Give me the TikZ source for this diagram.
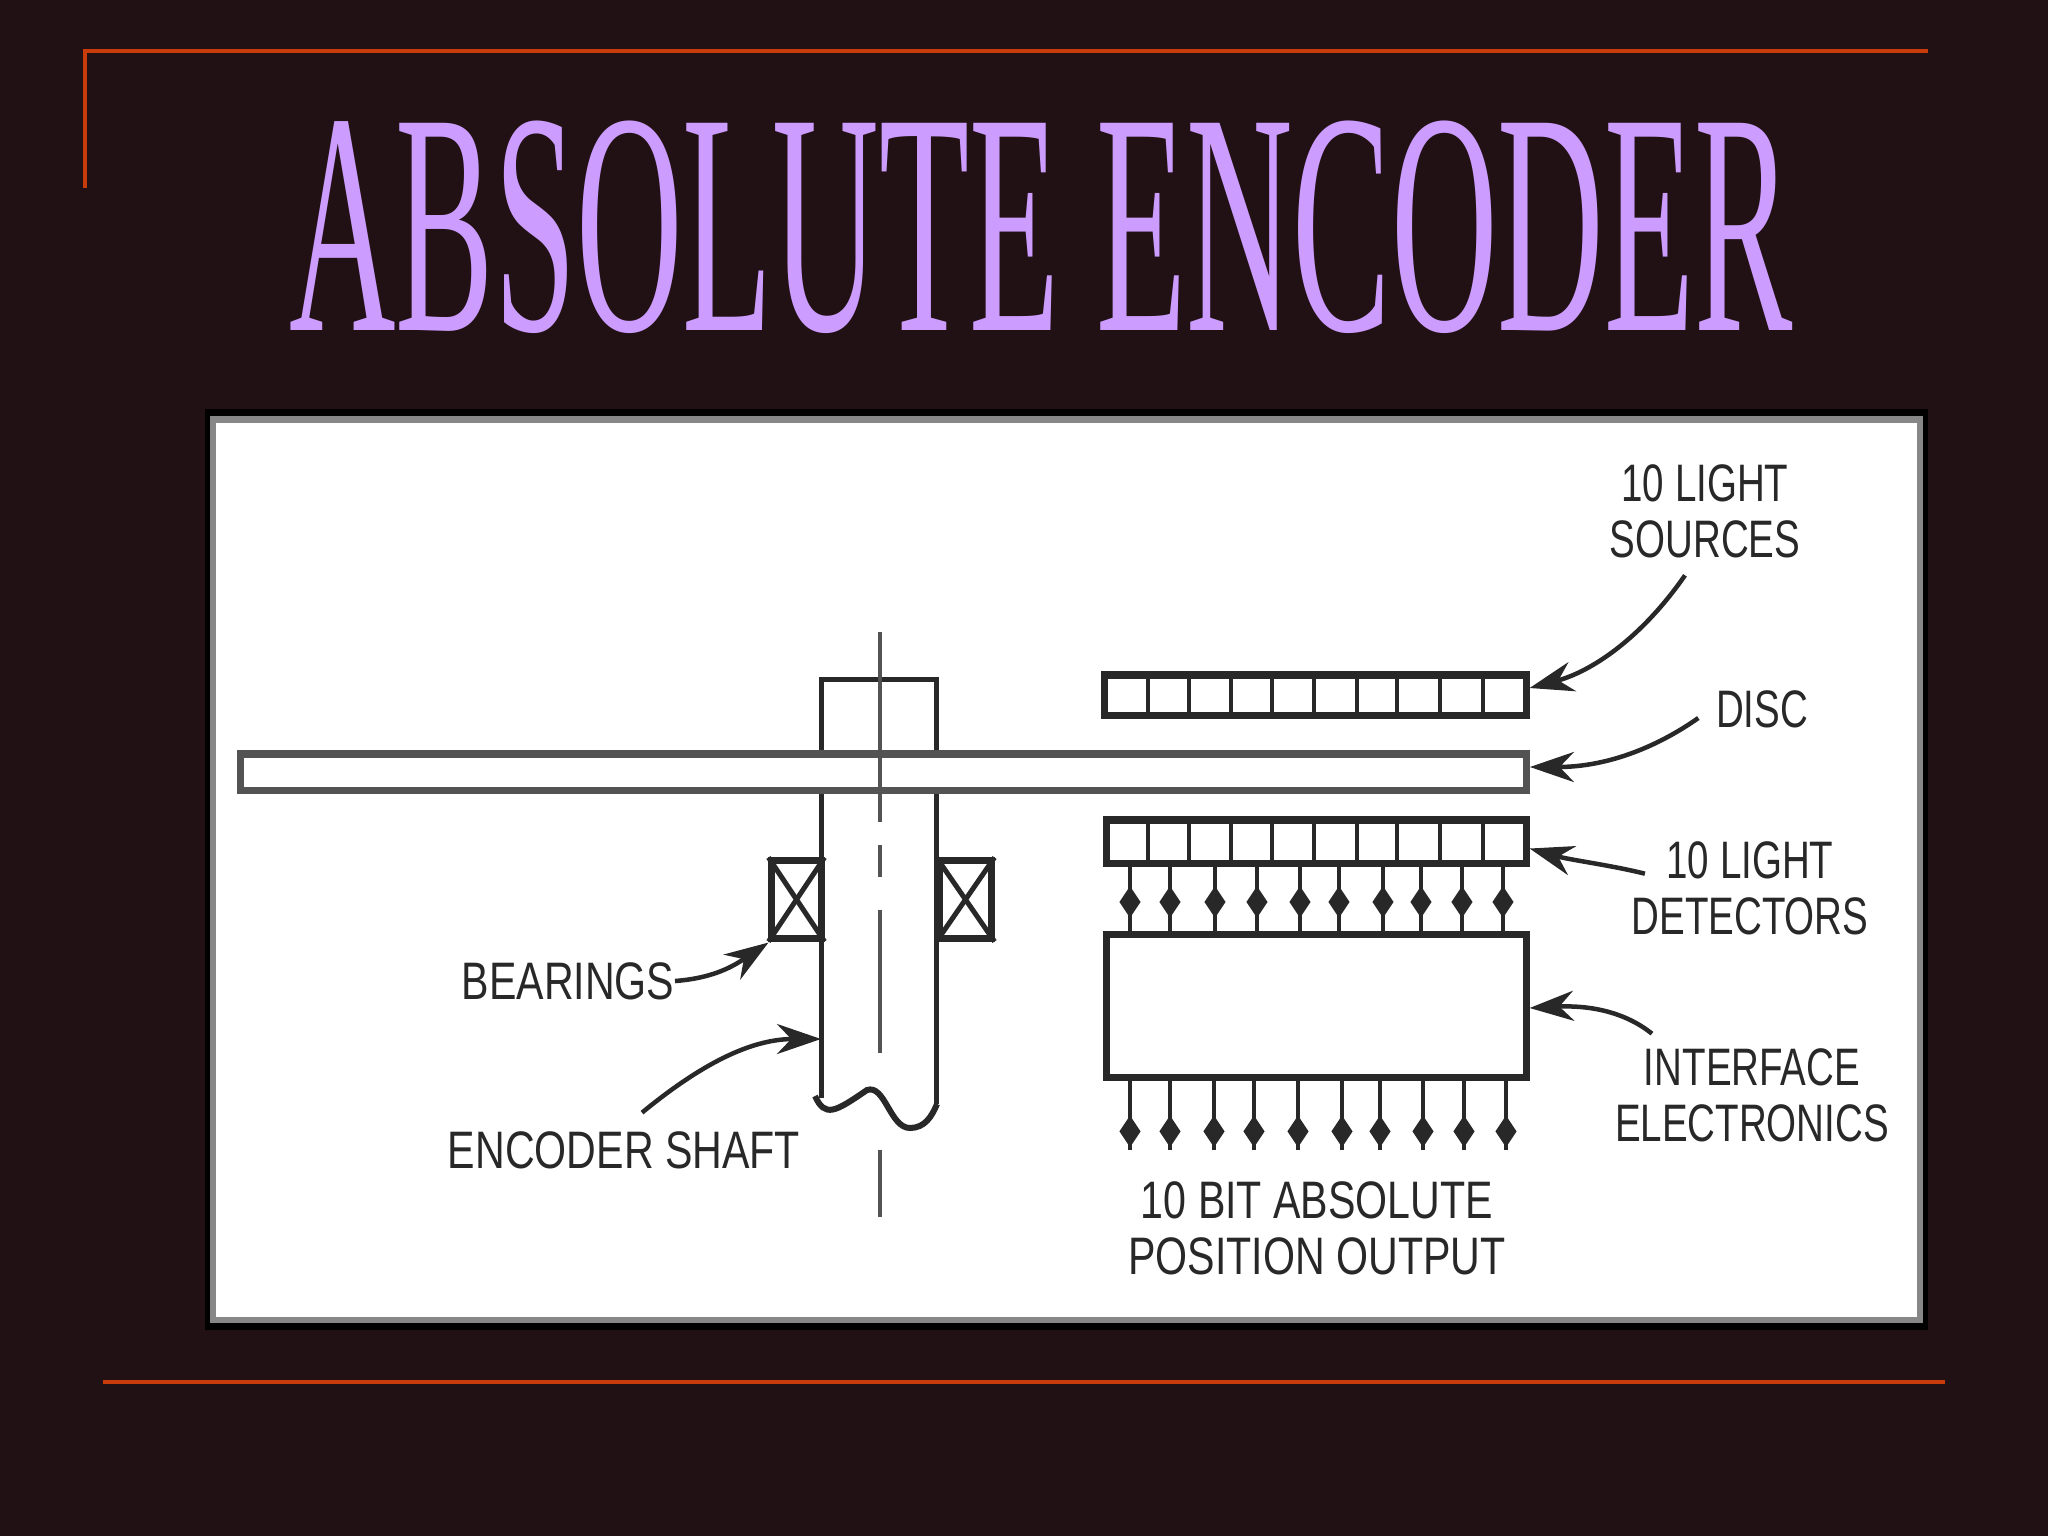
\documentclass[tikz,border=0pt]{standalone}
\usepackage{fontspec}
\usetikzlibrary{arrows.meta,decorations.markings}
\newfontfamily\titlefont[FakeStretch=0.466]{Liberation Serif}
\newfontfamily\lblfont[FakeStretch=0.73]{Liberation Sans}
\newfontfamily\lblwidefont[FakeStretch=0.78]{Liberation Sans}
\definecolor{slidebg}{RGB}{33, 16, 20}
\definecolor{ruleline}{RGB}{200, 60, 12}
\definecolor{titlepurple}{RGB}{204, 157, 255}
\definecolor{panelgray}{RGB}{135, 135, 135}
\definecolor{ink}{RGB}{40, 40, 40}
\tikzset{
  part/.style={draw=ink, line width=.7mm, fill=white, inner sep=0pt},
  lbl/.style={font=\lblfont\fontsize{15}{15.9}\selectfont, text=ink, align=center, inner sep=0pt},
  lblwide/.style={lbl, font=\lblwidefont\fontsize{15}{15.9}\selectfont},
  leader/.style={draw=ink, line width=.45mm, -{Stealth[length=4.4mm, width=3mm]}},
  wire/.style={draw=ink, line width=.45mm, postaction={decorate},
    decoration={markings, mark=at position #1 with {\arrow{Diamond[length=9pt, width=6pt]}}}}
}
\begin{document}
\begin{tikzpicture}[x=0.01cm, y=-0.01cm]
  \useasboundingbox (0,0) rectangle (2048,1536);
  \fill[slidebg] (0,0) rectangle (2048,1536);

  % Slide rules and title
  \draw[ruleline, line width=.42mm] (85,188) -- (85,51) -- (1928,51);
  \draw[ruleline, line width=.42mm] (103,1382) -- (1945,1382);
  \node[font=\titlefont\fontsize{90}{90}\selectfont, text=titlepurple, inner sep=0pt] (title) at (1041,227) {ABSOLUTE ENCODER};

  % Panel
  \fill[black] (205,409) rectangle (1928,1330);
  \fill[panelgray] (210,416) rectangle (1923,1323);
  \fill[white] (216,423) rectangle (1917,1317);

  % Shaft
  \draw[draw=ink, line width=.5mm] (821,1098) -- (821,679) -- (936,679) -- (936,1104);
  \draw[draw=ink, line width=.6mm] (815,1096) .. controls (825,1118) and (835,1112) .. (867,1090)
    .. controls (885,1084) and (890,1128) .. (910,1128) .. controls (925,1128) and (932,1116) .. (937,1104);

  % Disc
  \node[part, draw=ink!80, minimum width=12.85cm, minimum height=.36cm] (disc) at (883.5,772) {};

  % Centre line
  \foreach \a/\b in {632/822, 845/877, 910/1053, 1150/1217} {
    \draw[draw=ink!80, line width=.45mm] (880,\a) -- (880,\b);
  }

  % Bearings
  \node[part, minimum width=.49cm, minimum height=.77cm] (bearleft) at (796.5,899.5) {};
  \node[part, minimum width=.51cm, minimum height=.77cm] (bearright) at (965.5,899.5) {};
  \foreach \n in {bearleft, bearright} {
    \draw[draw=ink, line width=.5mm] (\n.north west) -- (\n.south east);
    \draw[draw=ink, line width=.5mm] (\n.north east) -- (\n.south west);
  }

  % Sources, detectors, electronics
  \node[part, minimum width=4.21cm, minimum height=.40cm] (sources) at (1315.5,695) {};
  \node[part, minimum width=4.19cm, minimum height=.43cm] (detectors) at (1316.5,841.5) {};
  \node[part, minimum width=4.19cm, minimum height=1.42cm] (interface) at (1316.5,1006) {};
  \foreach \x in {1148, 1189, 1231, 1272, 1314, 1357, 1397, 1440, 1483} {
    \draw[draw=ink, line width=.45mm] (\x,0 |- sources.north) -- (\x,0 |- sources.south);
    \draw[draw=ink, line width=.45mm] (\x,0 |- detectors.north) -- (\x,0 |- detectors.south);
  }

  % Wires
  \foreach \x in {1130, 1170, 1215, 1257, 1300, 1339, 1383, 1421, 1462, 1503} {
    \draw[wire=.79] (\x,0 |- detectors.south) -- (\x,0 |- interface.north);
  }
  \foreach \x in {1130, 1170, 1214, 1254, 1298, 1342, 1380, 1423, 1464, 1506} {
    \coordinate (out\x) at (\x,1150);
    \draw[wire=.96] (\x,0 |- interface.south) -- (out\x);
  }

  % Labels
  \node[lbl] (lblsources) at (1705,511) {10 LIGHT\\SOURCES};
  \node[lbl] (lbldisc) at (1762,709) {DISC};
  \node[lbl] (lbldetectors) at (1750,888) {10 LIGHT\\DETECTORS};
  \node[lbl] (lblinterface) at (1752,1095) {INTERFACE\\ELECTRONICS};
  \node[lblwide] (lbloutput) at (1317,1228) {10 BIT ABSOLUTE\\POSITION OUTPUT};
  \node[lblwide] (lblbearings) at (568,981) {BEARINGS};
  \node[lblwide] (lblshaft) at (624,1150) {ENCODER SHAFT};

  % Leaders
  \draw[leader] ([xshift=-.2cm, yshift=-.17cm]lblsources.south) .. controls (1640,640) and (1590,672) .. ([yshift=.7mm]sources.east);
  \draw[leader] ([xshift=-.17cm, yshift=-.9mm]lbldisc.west) .. controls (1660,745) and (1610,767) .. ([yshift=.5mm]disc.east);
  \draw[leader] ([xshift=.14cm, yshift=-.33cm]lbldetectors.north west) .. controls (1610,865) and (1570,860) .. ([yshift=-.7mm]detectors.east);
  \draw[leader] ([xshift=-1cm, yshift=.14cm]lblinterface.north) .. controls (1625,1012) and (1590,1005) .. ([yshift=-.2mm]interface.east);
  \draw[leader] (lblbearings.east) .. controls (715,978) and (735,965) .. ([yshift=-.1mm]bearleft.south west);
  \draw[leader] ([xshift=.18cm, yshift=.18cm]lblshaft.north) .. controls (700,1065) and (750,1039) .. (821,1039);
\end{tikzpicture}
\end{document}
